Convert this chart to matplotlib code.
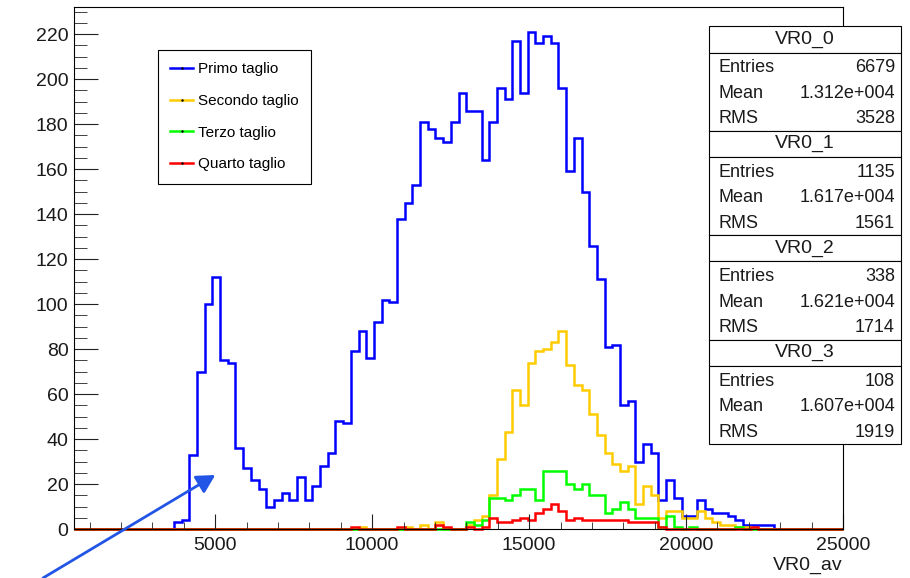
import numpy as np
import matplotlib.pyplot as plt
from matplotlib.lines import Line2D
from matplotlib.patches import Rectangle
from matplotlib.ticker import MultipleLocator

plt.rcParams['font.family'] = ['Liberation Sans', 'DejaVu Sans']

# histogram binning: 100 bins from 500 to 25000
nbins = 100
xlo, xhi = 500, 25000

# bin contents, each list starts at the given bin index
primo_start = 13
primo = [3, 4, 33, 70, 100, 112, 75, 74, 36, 27, 22, 18, 10, 13, 16, 13, 23, 13, 19, 28,
         34, 48, 47, 79, 88, 76, 92, 102, 101, 138, 145, 153, 181, 178, 174, 172, 181, 194,
         186, 186, 164, 181, 196, 191, 217, 194, 221, 216, 219, 216, 196, 159, 174, 150,
         126, 111, 81, 82, 55, 57, 30, 38, 34, 13, 22, 14, 6, 6, 13, 9, 7, 7, 6, 4, 2, 2, 2, 2]

secondo_start = 37
secondo = [1, 0, 0, 0, 0, 0, 1, 0, 2, 0, 3, 0, 0, 0, 2, 4, 6, 15, 31, 43, 62, 55, 74, 79,
           80, 83, 88, 73, 64, 62, 51, 42, 34, 29, 26, 28, 11, 19, 15, 5, 8, 8, 5, 5, 8, 5,
           3, 2, 2, 1, 1]

terzo_start = 51
terzo = [3, 2, 4, 14, 14, 13, 15, 18, 18, 13, 26, 26, 26, 20, 18, 20, 15, 15, 7, 9, 12, 9,
         5, 5, 5, 1, 6, 1, 0, 1, 0, 0, 0, 0, 0, 1]

quarto_start = 36
quarto = [1, 0, 0, 0, 0, 0, 1, 0, 0, 0, 0, 2, 1, 0, 0, 1, 0, 1, 5, 3, 3, 4, 5, 4, 7, 9, 11,
          8, 4, 5, 4, 4, 4, 4, 4, 4, 3, 3, 3, 3, 1, 0, 0, 0, 0, 0, 0, 0, 0, 0, 0, 0, 1]

names = ['Primo taglio', 'Secondo taglio', 'Terzo taglio', 'Quarto taglio']
colors = ['#0000ff', '#ffcc00', '#00ff00', '#ff0000']

# stats box contents
stat_titles = ['VR0_0', 'VR0_1', 'VR0_2', 'VR0_3']
stat_entries = ['6679', '1135', '338', '108']
stat_mean = ['1.312e+004', '1.617e+004', '1.621e+004', '1.607e+004']
stat_rms = ['3528', '1561', '1714', '1919']

W, H = 910, 578


def fx(px):
    return px / W


def fy(py):
    return 1 - py / H


edges = np.linspace(xlo, xhi, nbins + 1)
fig = plt.figure(figsize=(W / 100, H / 100), dpi=100)
ax = fig.add_axes([fx(74), fy(529), fx(843) - fx(74), fy(7) - fy(529)])

series = [(primo_start, primo), (secondo_start, secondo),
          (terzo_start, terzo), (quarto_start, quarto)]
for (start, counts), c in zip(series, colors):
    h = np.zeros(nbins)
    h[start:start + len(counts)] = counts
    ax.stairs(h, edges, color=c, lw=1.8, clip_on=False)

ymax = max(primo) * 1.05
ax.set_xlim(xlo, xhi)
ax.set_ylim(0, ymax)

ax.set_xticks(np.arange(5000, 25001, 5000))
ax.set_yticks(np.arange(0, 221, 20))
ax.xaxis.set_minor_locator(MultipleLocator(1000))
ax.yaxis.set_minor_locator(MultipleLocator(5))
ax.tick_params(which='both', direction='in', top=False, right=False,
               labelsize=14, color='#222222', labelcolor='#1a1a1a')
ax.tick_params(axis='y', which='major', length=17, pad=4)
ax.tick_params(axis='y', which='minor', length=9)
ax.tick_params(axis='x', which='major', length=11, pad=6)
ax.tick_params(axis='x', which='minor', length=5)
for s in ax.spines.values():
    s.set_linewidth(0.8)
ax.set_xlabel('VR0_av', loc='right', fontsize=14, labelpad=2, color='#1a1a1a')

# legend
handles = [Line2D([], [], color=c, lw=1.8, marker='.', markersize=1.5,
                  markerfacecolor='black', markeredgecolor='black') for c in colors]
leg = ax.legend(handles, names, loc='upper left', bbox_to_anchor=(fx(158), fy(50)),
                bbox_transform=fig.transFigure, borderaxespad=0, fontsize=11,
                handlelength=1.5, handletextpad=0.35, labelspacing=1.16, borderpad=0.8,
                fancybox=False, edgecolor='black', framealpha=1, numpoints=1)
leg.get_frame().set_linewidth(0.8)

# stats boxes on the right
x0, x1 = 709, 901
for i in range(4):
    top = 26.5 + i * 104.4
    for (ya, yb) in [(top, top + 26), (top + 26, top + 104.4)]:
        fig.add_artist(Rectangle((fx(x0), fy(yb)), fx(x1) - fx(x0), fy(ya) - fy(yb),
                                 transform=fig.transFigure, fc='white', ec='black', lw=0.8))
    fig.text(fx((x0 + x1) / 2), fy(top + 13), stat_titles[i], ha='center', va='center',
             fontsize=14, color='#1a1a1a')
    rows = [('Entries', stat_entries[i]), ('Mean', stat_mean[i]), ('RMS', stat_rms[i])]
    for k, (lab, val) in enumerate(rows):
        yy = fy(top + 26 + 15.5 + k * 25.5)
        fig.text(fx(719), yy, lab, ha='left', va='center', fontsize=13, color='#1a1a1a')
        fig.text(fx(895), yy, val, ha='right', va='center', fontsize=13, color='#1a1a1a')

# arrow pointing at the low-energy peak
ax.annotate('', xy=(5000, 24), xycoords='data', xytext=(fx(43), fy(578)),
            textcoords='figure fraction', annotation_clip=False,
            arrowprops=dict(arrowstyle='-|>,head_length=0.55,head_width=0.3',
                            color='#2255e6', lw=2, mutation_scale=20, shrinkA=0, shrinkB=0))

fig.savefig('out.png', dpi=100)
